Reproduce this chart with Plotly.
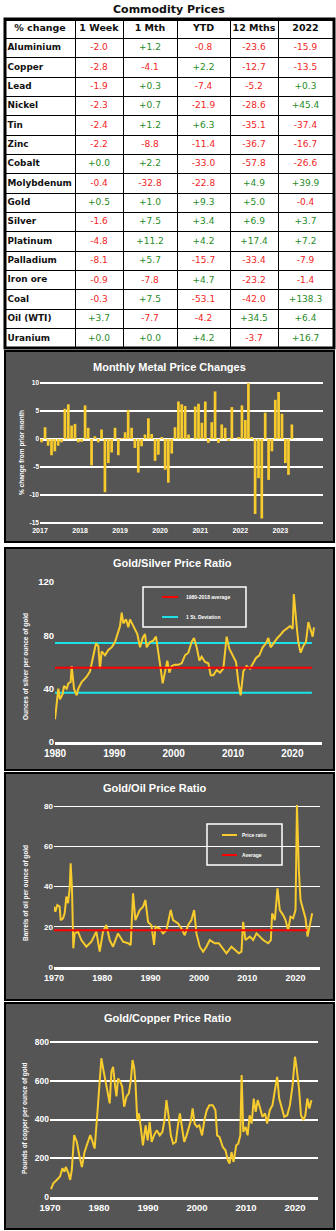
import plotly.graph_objects as go
import pandas as pd

W, H = 336, 1231
def X(px): return px / W
def Y(py): return 1 - py / H

# ---------------- table data ----------------
commodities = ["Aluminium", "Copper", "Lead", "Nickel", "Tin", "Zinc", "Cobalt", "Molybdenum",
               "Gold", "Silver", "Platinum", "Palladium", "Iron ore", "Coal", "Oil (WTI)", "Uranium"]
col_headers = ["% change", "1 Week", "1 Mth", "YTD", "12 Mths", "2022"]
week_1 = [-2.0, -2.8, -1.9, -2.3, -2.4, -2.2, 0.0, -0.4, 0.5, -1.6, -4.8, -8.1, -0.9, -0.3, 3.7, 0.0]
month_1 = [1.2, -4.1, 0.3, 0.7, 1.2, -8.8, 2.2, -32.8, 1.0, 7.5, 11.2, 5.7, -7.8, 7.5, -7.7, 0.0]
ytd = [-0.8, 2.2, -7.4, -21.9, 6.3, -11.4, -33.0, -22.8, 9.3, 3.4, 4.2, -15.7, 4.7, -53.1, -4.2, 4.2]
months_12 = [-23.6, -12.7, -5.2, -28.6, -35.1, -36.7, -57.8, 4.9, 5.0, 6.9, 17.4, -33.4, -23.2, -42.0, 34.5, -3.7]
year_2022 = [-15.9, -13.5, 0.3, 45.4, -37.4, -16.7, -26.6, 39.9, -0.4, 3.7, 7.2, -7.9, -1.4, 138.3, 6.4, 16.7]

# ---------------- monthly metal price changes (Jan 2017 - Apr 2023) ----------------
bar_start, bar_end = "2017-01-01", "2023-04-01"
monthly_change = [
    -0.6, 2.1, -1.2, -2.9, -2.2, -1.2, -0.6, 5.4, 6.2, 2.4, 2.7, -0.6,
    -0.5, 6.0, 2.0, -4.7, 0.5, -0.6, 1.7, -9.5, -4.3, -2.4, 2.0, -2.9,
    0.1, 1.2, 5.2, 2.0, -1.6, -6.0, -1.3, 0.8, 3.7, 0.9, -3.9, -2.8,
    0.2, -5.5, -7.8, -2.6, 2.1, 6.7, 6.2, 5.9, 0.8, 0.0, 5.8, 6.3,
    2.9, 6.7, -0.7, 3.0, 8.5, -0.7, 2.6, 2.0, -0.3, 5.7, 0.0, 0.3,
    6.0, 3.4, 10.0, 0.3, -13.4, -7.0, -14.2, 4.7, -7.3, -2.2, 7.0, 8.4,
    4.5, -4.3, -6.4, 2.6]
bar_years = ["2017", "2018", "2019", "2020", "2021", "2022", "2023"]

# ---------------- gold/silver ratio ----------------
gs_year = [1980.0, 1980.28, 1980.56, 1980.84, 1981.29, 1981.52, 1981.97, 1982.25, 1982.64, 1982.81,
           1983.2, 1983.65, 1983.93, 1984.49, 1985.34, 1985.9, 1986.46, 1986.91, 1987.3, 1987.58,
           1987.87, 1988.43, 1988.99, 1989.55, 1990.11, 1990.56, 1990.96, 1991.24, 1991.52, 1991.97,
           1992.36, 1992.64, 1993.09, 1993.48, 1993.88, 1994.33, 1994.78, 1995.17, 1995.45, 1996.01,
           1996.57, 1997.02, 1997.42, 1997.81, 1998.15, 1998.54, 1998.93, 1999.27, 1999.66, 2000.22,
           2000.79, 2001.35, 2001.91, 2002.47, 2003.03, 2003.43, 2003.88, 2004.33, 2004.72, 2005.28,
           2005.84, 2006.24, 2006.69, 2007.25, 2007.81, 2008.37, 2008.93, 2009.38, 2009.94, 2010.51,
           2010.9, 2011.29, 2011.74, 2012.3, 2012.87, 2013.31, 2013.88, 2014.44, 2015.0, 2015.56,
           2015.96, 2016.35, 2016.91, 2017.47, 2017.92, 2018.48, 2019.04, 2019.61, 2020.06, 2020.25,
           2020.73, 2021.01, 2021.4, 2021.85, 2022.3, 2022.7, 2023.09, 2023.43, 2023.65]
gs_ratio = [17, 30, 40, 32, 36, 42, 40, 44, 45, 57,
            40, 35, 40, 45, 49, 53, 65, 74, 72, 55,
            68, 65, 69, 71, 75, 81, 87, 97, 89, 92,
            86, 92, 88, 84, 81, 71, 78, 81, 71, 75,
            76, 79, 68, 55, 44, 53, 61, 52, 57, 58,
            58, 59, 65, 67, 75, 78, 71, 61, 64, 60,
            59, 50, 50, 54, 52, 55, 79, 70, 65, 60,
            45, 35, 53, 57, 55, 59, 63, 65, 71, 74,
            78, 71, 75, 78, 80, 83, 85, 87, 85, 111,
            87, 75, 67, 72, 75, 90, 84, 79, 86]
gs_average = 55.6
gs_std_upper = 74.3
gs_std_lower = 37.0
gs_line_span = [1980.0, 2023.3]

# ---------------- gold/oil ratio ----------------
go_year = [1970.0, 1970.28, 1970.69, 1971.17, 1971.38, 1971.86, 1972.21, 1972.56, 1972.9, 1973.25,
           1973.45, 1973.73, 1974.0, 1974.28, 1974.97, 1975.66, 1976.7, 1977.73, 1978.77, 1979.46,
           1980.15, 1980.84, 1981.53, 1982.22, 1983.26, 1984.3, 1985.33, 1985.88, 1986.37, 1986.85,
           1987.75, 1988.44, 1988.92, 1989.48, 1990.17, 1990.72, 1991.0, 1991.89, 1992.58, 1993.27,
           1994.17, 1994.65, 1995.69, 1996.38, 1997.07, 1997.76, 1998.45, 1999.01, 1999.49, 2000.18,
           2000.87, 2001.56, 2002.25, 2003.29, 2004.12, 2005.01, 2005.7, 2006.74, 2007.43, 2008.26,
           2008.81, 2009.16, 2009.64, 2010.54, 2011.23, 2011.92, 2012.61, 2013.3, 2014.34, 2014.89,
           2015.17, 2015.72, 2016.27, 2016.75, 2017.44, 2017.93, 2018.48, 2018.96, 2019.51, 2020.0,
           2020.3, 2020.69, 2021.04, 2021.59, 2022.07, 2022.49, 2022.97, 2023.45]
go_ratio = [30, 27.5, 30.8, 30, 23.3, 24.2, 26.7, 35, 31.7, 39.1,
            51.5, 38.3, 9.3, 16.7, 17.6, 13.4, 10.1, 12.6, 17.6, 7.6,
            17.6, 20.9, 13.4, 10.1, 16.7, 12.6, 11.8, 10.9, 36.6, 23.3,
            28.3, 30.0, 33.3, 22.4, 20.7, 11.0, 20.0, 19.1, 16.7, 18.3,
            28.3, 23.3, 21.6, 19.1, 15.8, 20.8, 23.3, 28.3, 16.7, 10.1,
            7.6, 10.1, 13.4, 11.8, 11.8, 9.3, 6.8, 10.1, 8.4, 6.8,
            7.6, 22.4, 13.4, 15.1, 13.4, 16.7, 15.1, 13.4, 11.8, 13.4,
            26.7, 23.3, 39.1, 28.3, 25.8, 23.3, 18.3, 25.0, 24.2, 28.3,
            80.5, 48.2, 33.3, 28.3, 24.2, 15.1, 20.8, 26.7]
go_average = 18.3
go_line_span = [1970.0, 2022.4]

# ---------------- gold/copper ratio ----------------
gc_year = [1970.21, 1970.68, 1971.37, 1972.05, 1972.53, 1972.95, 1973.22, 1973.77, 1974.11, 1974.45,
           1974.93, 1975.48, 1975.96, 1976.51, 1977.05, 1977.74, 1978.22, 1978.7, 1979.11, 1979.59,
           1980.07, 1980.48, 1980.96, 1981.3, 1981.78, 1982.19, 1982.53, 1982.88, 1983.22, 1983.56,
           1983.9, 1984.32, 1984.73, 1985.14, 1985.62, 1986.1, 1986.51, 1986.85, 1987.19, 1987.47,
           1987.81, 1988.15, 1988.56, 1988.97, 1989.52, 1989.93, 1990.34, 1990.75, 1991.23, 1991.78,
           1992.4, 1992.95, 1993.42, 1993.77, 1994.18, 1994.66, 1995.14, 1995.68, 1996.16, 1996.51,
           1996.92, 1997.4, 1997.88, 1998.29, 1998.77, 1999.11, 1999.52, 2000.0, 2000.48, 2001.03,
           2001.51, 2001.99, 2002.53, 2003.22, 2003.77, 2004.11, 2004.59, 2005.27, 2005.82, 2006.3,
           2006.64, 2007.05, 2007.47, 2008.01, 2008.42, 2008.84, 2009.11, 2009.45, 2009.93, 2010.34,
           2010.75, 2011.16, 2011.58, 2011.99, 2012.4, 2012.81, 2013.36, 2013.9, 2014.32, 2014.86,
           2015.41, 2015.96, 2016.37, 2016.78, 2017.26, 2017.81, 2018.42, 2018.97, 2019.52, 2020.0,
           2020.34, 2020.82, 2021.23, 2021.71, 2022.12, 2022.53, 2022.95, 2023.36]
gc_ratio = [41, 71, 88, 106, 148, 131, 155, 122, 88, 139,
            320, 284, 217, 155, 232, 284, 320, 284, 250, 405,
            578, 716, 647, 604, 526, 483, 647, 672, 587, 519,
            612, 595, 570, 466, 519, 535, 604, 707, 664, 578,
            397, 431, 353, 267, 370, 292, 387, 284, 318, 344,
            318, 336, 405, 500, 422, 318, 275, 284, 379, 431,
            362, 284, 318, 353, 396, 457, 379, 362, 370, 318,
            396, 448, 474, 474, 448, 318, 310, 258, 241, 190,
            172, 232, 181, 267, 275, 318, 629, 336, 362, 318,
            422, 379, 508, 439, 500, 466, 414, 431, 379, 448,
            474, 560, 620, 508, 466, 414, 422, 474, 578, 724,
            664, 560, 422, 397, 422, 508, 457, 500]

# ---------------- styling ----------------
GOLD = "#F7CB2D"
PANEL = "#555555"
GREEN = "#1F8B1F"
RED = "#F02424"
TFONT = "DejaVu Sans"
AFONT = "Liberation Sans"

# table geometry (pixels inside the table)
col_edges = [0, 70, 118, 172, 225, 273, 328]
col_centers = [(a + b) / 2 for a, b in zip(col_edges[:-1], col_edges[1:])]
TABLE_X0, TABLE_X1, TABLE_Y0, TABLE_Y1 = 5, 333, 19, 348

fig = go.Figure()

# ----- table drawn as text on its own axes -----
def fmt(v):
    return f"{v:+.1f}"

n_rows = len(commodities)
row_idx = list(range(1, n_rows + 1))
fig.add_trace(go.Scatter(x=col_centers, y=[0] * len(col_headers), mode="text",
                         text=["<b>%s</b>" % h for h in col_headers],
                         textfont=dict(family=TFONT, size=9.5, color="#111111"),
                         xaxis="x5", yaxis="y5", showlegend=False, hoverinfo="skip"))
fig.add_trace(go.Scatter(x=[2.5] * n_rows, y=row_idx, mode="text", textposition="middle right",
                         text=["<b>%s</b>" % c for c in commodities],
                         textfont=dict(family=TFONT, size=8.9, color="#111111"),
                         xaxis="x5", yaxis="y5", showlegend=False, hoverinfo="skip"))
for ci, col in enumerate([week_1, month_1, ytd, months_12, year_2022], start=1):
    fig.add_trace(go.Scatter(x=[col_centers[ci]] * n_rows, y=row_idx, mode="text",
                             text=[fmt(v) for v in col],
                             textfont=dict(family=TFONT, size=9,
                                           color=[GREEN if v >= 0 else RED for v in col]),
                             xaxis="x5", yaxis="y5", showlegend=False, hoverinfo="skip"))

# ----- panel 1 bars -----
months = pd.date_range(bar_start, bar_end, freq="MS") + pd.Timedelta(days=15)
fig.add_trace(go.Bar(x=months, y=monthly_change, marker=dict(color=GOLD, line=dict(width=0)),
                     xaxis="x", yaxis="y", showlegend=False))

# ----- panel 2 gold/silver -----
fig.add_trace(go.Scatter(x=gs_line_span, y=[gs_std_upper] * 2, mode="lines", line=dict(color="#19E3E8", width=2),
                         xaxis="x2", yaxis="y2", showlegend=False))
fig.add_trace(go.Scatter(x=gs_line_span, y=[gs_std_lower] * 2, mode="lines", line=dict(color="#19E3E8", width=2),
                         xaxis="x2", yaxis="y2", showlegend=False))
fig.add_trace(go.Scatter(x=gs_year, y=gs_ratio, mode="lines", line=dict(color=GOLD, width=2),
                         xaxis="x2", yaxis="y2", showlegend=False))
fig.add_trace(go.Scatter(x=gs_line_span, y=[gs_average] * 2, mode="lines", line=dict(color="#FF0000", width=2),
                         xaxis="x2", yaxis="y2", showlegend=False))

# ----- panel 3 gold/oil -----
fig.add_trace(go.Scatter(x=go_year, y=go_ratio, mode="lines", line=dict(color=GOLD, width=2),
                         xaxis="x3", yaxis="y3", showlegend=False))
fig.add_trace(go.Scatter(x=go_line_span, y=[go_average] * 2, mode="lines", line=dict(color="#FF0000", width=2),
                         xaxis="x3", yaxis="y3", showlegend=False))

# ----- panel 4 gold/copper -----
fig.add_trace(go.Scatter(x=gc_year, y=gc_ratio, mode="lines", line=dict(color=GOLD, width=2),
                         xaxis="x4", yaxis="y4", showlegend=False))

def tick_font(s):
    return dict(family=AFONT, size=s, color="white", weight="bold")

layout = dict(
    width=W, height=H, margin=dict(l=0, r=0, t=0, b=0, autoexpand=False),
    paper_bgcolor="white", plot_bgcolor="rgba(0,0,0,0)",
    bargap=0.12, showlegend=False, hovermode=False,
    xaxis=dict(domain=[X(40), X(323)], anchor="y", type="date", automargin=False,
               range=["2017-01-01", "2024-01-25"],
               tickvals=[f"{y}-01-01" for y in bar_years], ticktext=bar_years, ticks="",
               showgrid=False, zeroline=False, showline=False, tickfont=tick_font(7)),
    yaxis=dict(domain=[Y(525), Y(381)], anchor="x", range=[-15.36, 10.36], automargin=False,
               tickvals=[-15, -10, -5, 0, 5, 10], ticktext=["-15", "-10", "-5", "0", "5", "10"], ticks="",
               showgrid=True, gridcolor="white", gridwidth=2,
               zeroline=True, zerolinecolor="white", zerolinewidth=3, tickfont=tick_font(6.5)),
    xaxis2=dict(domain=[X(55), X(322)], anchor="y2", range=[1980, 2025.0], automargin=False,
                tickvals=[1980, 1990, 2000, 2010, 2020], showgrid=False, zeroline=False, ticks="",
                showline=True, linecolor="white", linewidth=3, tickfont=tick_font(10)),
    yaxis2=dict(domain=[Y(742), Y(575)], anchor="x2", range=[0, 125.25], automargin=False, ticks="",
                tickvals=[0, 40, 80, 120], showgrid=False, zeroline=False, tickfont=tick_font(9.5)),
    xaxis3=dict(domain=[X(54), X(320)], anchor="y3", range=[1970, 2025.07], automargin=False, ticks="",
                tickvals=[1970, 1980, 1990, 2000, 2010, 2020], showgrid=False, zeroline=False,
                showline=True, linecolor="white", linewidth=2.5, tickfont=tick_font(9)),
    yaxis3=dict(domain=[Y(967), Y(803)], anchor="x3", range=[0, 81.5], automargin=False, ticks="",
                tickvals=[0, 20, 40, 60, 80], showgrid=True, gridcolor="white", gridwidth=1.3,
                zeroline=False, tickfont=tick_font(8)),
    xaxis4=dict(domain=[X(50), X(318)], anchor="y4", range=[1970, 2024.7], automargin=False, ticks="",
                tickvals=[1970, 1980, 1990, 2000, 2010, 2020], showgrid=False, zeroline=False,
                showline=True, linecolor="white", linewidth=2.5, tickfont=tick_font(9.5)),
    yaxis4=dict(domain=[Y(1197), Y(1038)], anchor="x4", range=[0, 820.6], automargin=False, ticks="",
                tickvals=[0, 200, 400, 600, 800], showgrid=True, gridcolor="white", gridwidth=2,
                zeroline=False, tickfont=tick_font(8.5)),
    xaxis5=dict(domain=[X(TABLE_X0), X(TABLE_X1)], anchor="y5", range=[0, TABLE_X1 - TABLE_X0],
                automargin=False, tickvals=col_edges[1:-1], showticklabels=False, ticks="",
                showgrid=True, gridcolor="black", gridwidth=1, zeroline=False, fixedrange=True),
    yaxis5=dict(domain=[Y(TABLE_Y1), Y(TABLE_Y0)], anchor="x5", range=[n_rows + 0.5, -0.5],
                automargin=False, tickvals=[i + 0.5 for i in range(n_rows)], showticklabels=False,
                ticks="", showgrid=True, gridcolor="black", gridwidth=1, zeroline=False, fixedrange=True),
)
fig.update_layout(**layout)

shapes = []
annotations = []

def note(text, px, py, size, family=AFONT, color="white", xanchor="center", angle=0):
    annotations.append(dict(text=text, x=X(px), y=Y(py), xref="paper", yref="paper",
                            xanchor=xanchor, yanchor="middle", showarrow=False, textangle=angle,
                            font=dict(family=family, size=size, color=color)))

# panel backgrounds
for top, bot in [(351, 542), (548, 770), (773, 1000), (1003, 1229)]:
    shapes.append(dict(type="rect", xref="paper", yref="paper", layer="below",
                       x0=X(5), x1=X(334), y0=Y(bot), y1=Y(top),
                       fillcolor=PANEL, line=dict(color="black", width=2)))

# table outer thick border
shapes.append(dict(type="rect", xref="paper", yref="paper", layer="above",
                   x0=X(TABLE_X0), x1=X(TABLE_X1 + 1), y0=Y(TABLE_Y1), y1=Y(TABLE_Y0),
                   line=dict(color="black", width=3)))
shapes.append(dict(type="line", xref="paper", yref="paper", layer="above",
                   x0=X(TABLE_X0), x1=X(TABLE_X1 + 1), y0=Y(TABLE_Y0 + 0.5), y1=Y(TABLE_Y0 + 0.5),
                   line=dict(color="black", width=3)))

# title of table
note("<b>Commodity Prices</b>", 169, 9, 11, family=TFONT, color="#111111")

# panel titles
for txt, cx, cy in [("Monthly Metal Price Changes", 169, 367), ("Gold/Silver Price Ratio", 172, 563),
                    ("Gold/Oil Price Ratio", 155, 788), ("Gold/Copper Price Ratio", 167, 1018)]:
    note("<b>%s</b>" % txt, cx, cy, 11)

# rotated y-axis titles
for txt, cx, cy in [("% change from prior month", 22, 453), ("Ounces of silver per ounce of gold", 26, 667),
                    ("Barrels of oil per ounce of gold", 26, 893), ("Pounds of copper per ounce of gold", 25, 1118)]:
    note("<b>%s</b>" % txt, cx, cy, 6.5, angle=-90)

# legend for gold/silver
shapes.append(dict(type="rect", xref="paper", yref="paper", x0=X(143), x1=X(246), y0=Y(627), y1=Y(587),
                   line=dict(color="white", width=1.5)))
shapes.append(dict(type="line", xref="paper", yref="paper", x0=X(162), x1=X(178), y0=Y(597), y1=Y(597),
                   line=dict(color="#FF0000", width=2)))
shapes.append(dict(type="line", xref="paper", yref="paper", x0=X(162), x1=X(178), y0=Y(617), y1=Y(617),
                   line=dict(color="#19E3E8", width=2)))
note("<b>1980-2018 average</b>", 184, 597, 5, xanchor="left")
note("<b>1 St. Deviation</b>", 184, 617, 5, xanchor="left")

# legend for gold/oil
shapes.append(dict(type="rect", xref="paper", yref="paper", x0=X(207), x1=X(282), y0=Y(865), y1=Y(824),
                   line=dict(color="white", width=1.5)))
shapes.append(dict(type="line", xref="paper", yref="paper", x0=X(222), x1=X(237), y0=Y(835), y1=Y(835),
                   line=dict(color=GOLD, width=2)))
shapes.append(dict(type="line", xref="paper", yref="paper", x0=X(222), x1=X(237), y0=Y(855), y1=Y(855),
                   line=dict(color="#FF0000", width=2)))
note("<b>Price ratio</b>", 240, 835, 5, xanchor="left")
note("<b>Average</b>", 240, 855, 5, xanchor="left")

fig.update_layout(shapes=shapes, annotations=annotations)
fig.write_html("out.html")
